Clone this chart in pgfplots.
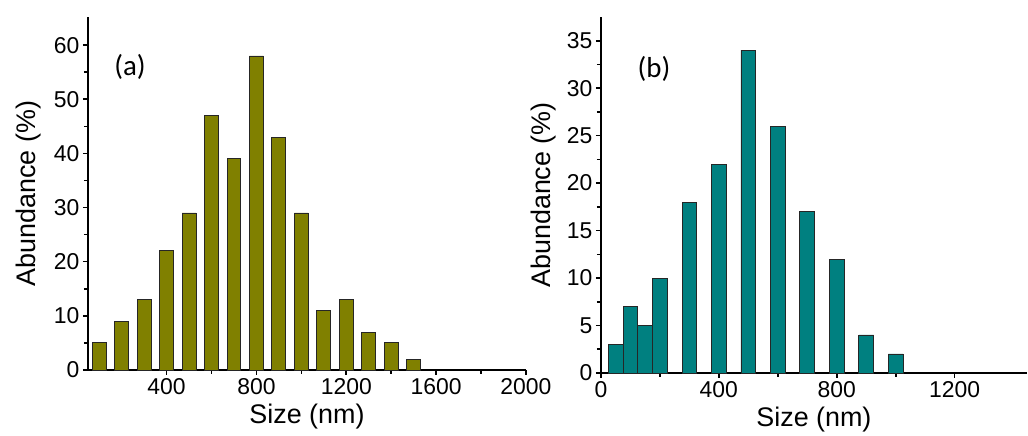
\documentclass[border=0pt]{standalone}
\usepackage{pgfplots}
\pgfplotsset{compat=1.18}
\usepackage{fontspec}
\setmainfont{Liberation Sans}
\newfontfamily\calib{Carlito}
\definecolor{olivebar}{HTML}{808000}
\definecolor{tealbar}{HTML}{008080}
\pgfplotsset{
  myax/.style={
    scale only axis,
    axis lines*=left,
    axis line style={line width=2.2bp},
    tick style={line width=1.6bp, black},
    tick align=outside,
    major tick length=5bp,
    minor tick length=4bp,
    minor tick num=1,
    /pgf/number format/assume math mode=true,
    /pgf/number format/1000 sep={},
    ticklabel style={font=\fontsize{23}{25}\selectfont},
    label style={font=\fontsize{27}{29}\selectfont},
    xlabel style={yshift=-2bp},
    ymin=0,
    ybar,
    clip=false,
  }
}
\begin{document}
\begin{tikzpicture}
\path (0,0) rectangle (1028bp,436bp);
\begin{axis}[myax,
  at={(88bp,66bp)}, anchor=south west,
  width=438bp, height=353bp,
  xmin=50, xmax=2000, ymax=65.2,
  xtick={400,800,1200,1600,2000},
  ytick={0,10,20,30,40,50,60},
  bar width=62,
  xlabel={Size (nm)}, ylabel={Abundance (\%)},
  ylabel style={yshift=6bp},
]
\addplot[fill=olivebar, draw=black!85, line width=0.9bp] coordinates {
(100,5) (200,9) (300,13) (400,22) (500,29) (600,47) (700,39) (800,58)
(900,43) (1000,29) (1100,11) (1200,13) (1300,7) (1400,5) (1500,2)};
\node[font=\calib\fontsize{29}{31}\selectfont] at (axis cs:237,56) {(a)};
\end{axis}
\begin{axis}[myax,
  at={(601bp,63bp)}, anchor=south west,
  width=426bp, height=356bp,
  xmin=0, xmax=1445, ymax=37.5,
  xtick={0,400,800,1200},
  ytick={0,5,10,15,20,25,30,35},
  bar width=50,
  xlabel={Size (nm)}, ylabel={Abundance (\%)},
  ylabel style={yshift=4bp},
]
\addplot[fill=tealbar, draw=black!85, line width=0.9bp] coordinates {
(50,3) (100,7) (150,5) (200,10) (300,18) (400,22) (500,34) (600,26)
(700,17) (800,12) (900,4) (1000,2)};
\node[font=\calib\fontsize{29}{31}\selectfont] at (axis cs:180,32) {(b)};
\end{axis}
\end{tikzpicture}
\end{document}
